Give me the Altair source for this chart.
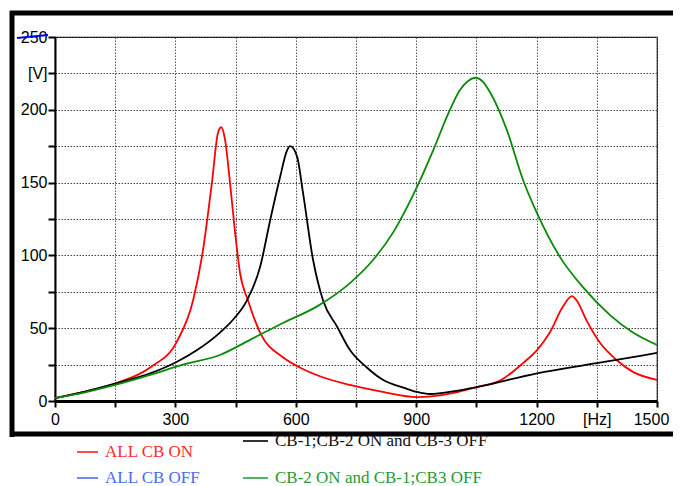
import altair as alt
import pandas as pd

# ---------------- data ----------------
series_names = ["ALL CB ON", "ALL CB OFF", "CB-1;CB-2 ON and CB-3 OFF", "CB-2 ON and CB-1;CB3 OFF"]
series_colors = ["#ff0000", "#3355ff", "#000000", "#0a8a0a"]

freq_all_on = [0, 75, 150, 237, 304, 344, 369, 391, 406, 414, 424, 436, 449, 461, 481, 511, 568, 610, 660,
               735, 817, 902, 942, 1000, 1051, 1109, 1166, 1201, 1233, 1266, 1288, 1300, 1325, 1358, 1400,
               1440, 1500]
volt_all_on = [2, 6.5, 12, 23, 41, 69, 104, 150, 184, 188, 179, 150, 115, 88, 69, 47, 30, 23, 17,
               11, 6.2, 2.7, 3.4, 6, 9.6, 14, 26, 35, 47, 65, 72, 69, 55, 40, 28,
               20, 14.5]

freq_cb12 = [0, 75, 150, 237, 304, 354, 411, 444, 478, 511, 536, 561, 578, 586, 603, 618, 643, 668, 703,
             735, 777, 818, 870, 902, 934, 1000, 1051, 1201, 1350, 1500]
volt_cb12 = [2, 6.5, 12, 19, 27, 35, 47, 56, 69, 92, 124, 154, 172, 175, 168, 143, 97, 69, 51,
             35, 23, 14.4, 9, 6.2, 4.8, 7, 9.6, 19, 26, 33]

freq_cb2 = [0, 75, 150, 237, 319, 411, 486, 568, 653, 735, 793, 843, 902, 942, 984, 1009, 1030, 1047,
            1067, 1084, 1126, 1166, 1201, 1258, 1316, 1383, 1440, 1500]
volt_cb2 = [2, 6, 11, 17.9, 25, 31.6, 42, 53.6, 65, 81, 97, 116, 147, 172, 200, 213.6, 220, 222,
            219, 212, 186, 152, 129, 99, 78, 59, 47, 38.5]

x_ticks = list(range(0, 1501, 150))
y_ticks = list(range(0, 251, 25))

frames = []
for name, fr, vo in [(series_names[0], freq_all_on, volt_all_on),
                     (series_names[2], freq_cb12, volt_cb12),
                     (series_names[3], freq_cb2, volt_cb2)]:
    frames.append(pd.DataFrame({"f": fr, "v": vo, "series": name}))
df = pd.concat(frames, ignore_index=True)

one = pd.DataFrame({"a": [0]})
LBL_FONT = "Liberation Sans"
LEG_FONT = "Liberation Serif"

lines = alt.Chart(df).mark_line(strokeWidth=1.8, interpolate="monotone", clip=True).encode(
    x=alt.X("f:Q", scale=alt.Scale(domain=[0, 1500], nice=False, zero=False),
            axis=alt.Axis(values=x_ticks, title=None, grid=True, gridDash=[1.5, 1.5], gridColor="#555555",
                          gridWidth=1, domainColor="black", domainWidth=3, tickColor="black", tickSize=6,
                          tickWidth=2, labelFont=LBL_FONT, labelFontSize=16, labelColor="black",
                          labelPadding=4, labelFlush=False, labelOverlap=False, format="d",
                          labelOffset={"condition": {"test": "datum.value == 1500", "value": -6}, "value": 0},
                          labelExpr="datum.value == 1350 ? '[Hz]' : (datum.value % 300 == 0 ? datum.label : '')")),
    y=alt.Y("v:Q", scale=alt.Scale(domain=[0, 250], nice=False),
            axis=alt.Axis(values=y_ticks, title=None, grid=True, gridDash=[1.5, 1.5], gridColor="#444444",
                          gridWidth=1, domainColor="black", domainWidth=2, tickColor="black", tickSize=7,
                          tickWidth=2, labelFont=LBL_FONT, labelFontSize=16, labelColor="black",
                          labelPadding=1, labelFlush=False, labelOverlap=False, format="d",
                          labelExpr="datum.value == 225 ? '[V]' : (datum.value % 50 == 0 ? datum.label : '')")),
    color=alt.Color("series:N", scale=alt.Scale(domain=series_names, range=series_colors), legend=None),
    order=alt.Order("f:Q"),
)


def hrule(x1, x2, y, color, width):
    return alt.Chart(one).mark_rule(color=color, strokeWidth=width).encode(
        x=alt.value(x1), x2=alt.value(x2), y=alt.value(y), y2=alt.value(y))


def vrule(x, y1, y2, color, width):
    return alt.Chart(one).mark_rule(color=color, strokeWidth=width).encode(
        x=alt.value(x), x2=alt.value(x), y=alt.value(y1), y2=alt.value(y2))


def legend_entry(x, y, text, color, textcolor, dash=21):
    r = hrule(x, x + dash, y, color, 1.6)
    t = alt.Chart(one).mark_text(align="left", baseline="middle", font=LEG_FONT, fontSize=17,
                                 color=textcolor).encode(
        x=alt.value(x + dash + 7), y=alt.value(y), text=alt.value(text))
    return r + t


# outer frame (plot origin is at page pixel 55,37)
frame = (vrule(-43, -26, 400, "black", 5)
         + hrule(-45, 630, -24, "black", 5)
         + hrule(-45, 630, 397, "black", 5))

# blue stroke over the "250" label
strike = alt.Chart(one).mark_rule(color="#0000ff", strokeWidth=2).encode(
    x=alt.value(-38), x2=alt.value(-7), y=alt.value(1), y2=alt.value(-2))

legend = (legend_entry(22, 415, series_names[0], "#ff2020", "#ff2a2a")
          + legend_entry(22, 441, series_names[1], "#5070f0", "#4a6cf0")
          + legend_entry(188, 404, series_names[2], "#000000", "#111111", dash=25)
          + legend_entry(188, 441, series_names[3], "#2aa040", "#1f9a38", dash=25))

chart = alt.layer(lines, frame, strike, legend).properties(
    width=602, height=364,
    autosize=alt.AutoSizeParams(type="none"),
    padding={"left": 47, "top": 29, "right": 16, "bottom": 85},
    background="white",
).configure_view(stroke="black", strokeWidth=1.2)

chart.save("out.html", embed_options={"renderer": "svg", "actions": False})
